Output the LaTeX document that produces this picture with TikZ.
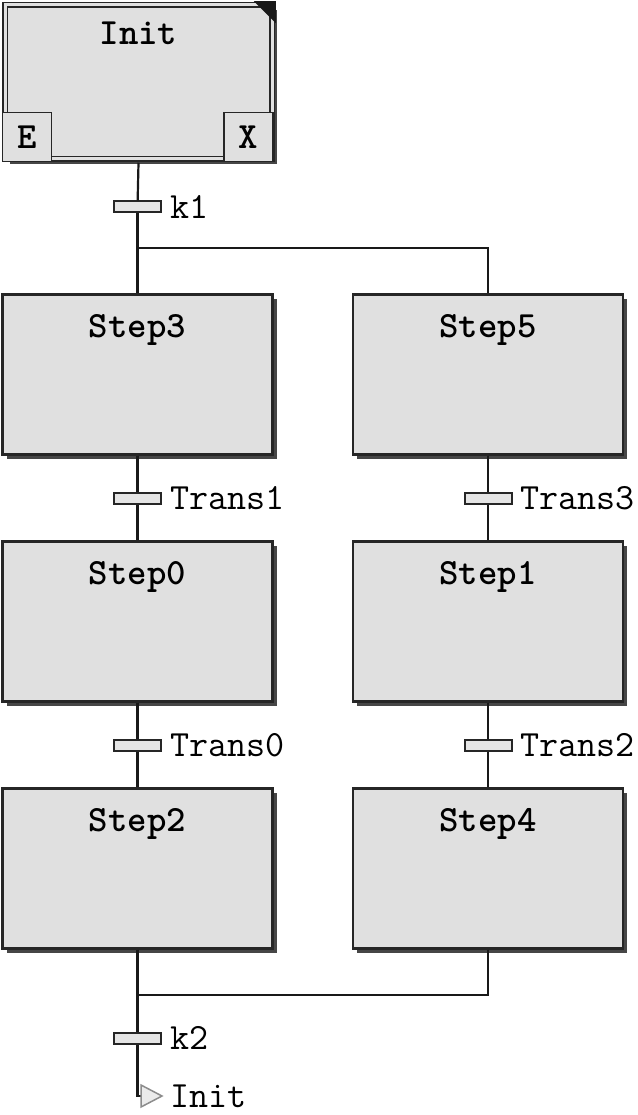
\documentclass[tikz,border=0pt]{standalone}
\usepackage{tikz}
\usetikzlibrary{shadows}

\begin{document}
\begin{tikzpicture}[x=1pt, y=-1pt,
  every node/.style={font=\fontsize{37}{44}\selectfont\ttfamily},
  stepbox/.style={draw=black!85, line width=2.2pt, fill=black!12, minimum width=270pt, minimum height=160pt, inner sep=0pt,
    drop shadow={shadow xshift=4pt, shadow yshift=-4pt, fill=black!85, opacity=.85}},
  initbox/.style={draw=black!85, line width=1.5pt, double=black!12, double distance=3pt, fill=black!12,
    minimum width=267pt, minimum height=154pt, inner sep=0pt,
    drop shadow={shadow xshift=5pt, shadow yshift=-5pt, fill=black!85, opacity=.85}},
  corbox/.style={draw=black!85, line width=1.5pt, fill=black!12, minimum size=49pt, inner sep=0pt,
    font=\fontsize{37}{44}\selectfont\ttfamily\bfseries},
  steptitle/.style={font=\fontsize{37}{44}\selectfont\ttfamily\bfseries, anchor=base, inner sep=0pt},
  trbar/.style={draw=black!85, line width=2pt, fill=black!10, minimum width=47pt, minimum height=11pt, inner sep=0pt},
  trlabel/.style={anchor=west, inner sep=0pt, xshift=8pt},
  link/.style={line width=2.2pt, draw=black!90}]
\useasboundingbox (0,0) rectangle (637,1115);

% initial step
\node[initbox] (init) at (138.5,82) {};
\node[corbox] (entry) at (27,137) {E};
\node[corbox] (exit) at (248.5,137) {X};
\fill[black!90] ([xshift=-19pt,yshift=3pt]init.north east) -- ([xshift=3pt,yshift=3pt]init.north east) -- ([xshift=3pt,yshift=-19pt]init.north east) -- cycle;
\node[steptitle] (initname) at ([yshift=-40pt]init.north) {Init};

% steps
\node[stepbox] (s3) at (137.5,374.5) {};
\node[stepbox] (s5) at (488,374.5) {};
\node[stepbox] (s0) at (137.5,621.5) {};
\node[stepbox] (s1) at (488,621.5) {};
\node[stepbox] (s2) at (137.5,868.5) {};
\node[stepbox] (s4) at (488,868.5) {};
\node[steptitle] (s3name) at ([yshift=-44pt]s3.north) {Step3};
\node[steptitle] (s5name) at ([yshift=-44pt]s5.north) {Step5};
\node[steptitle] (s0name) at ([yshift=-44pt]s0.north) {Step0};
\node[steptitle] (s1name) at ([yshift=-44pt]s1.north) {Step1};
\node[steptitle] (s2name) at ([yshift=-44pt]s2.north) {Step2};
\node[steptitle] (s4name) at ([yshift=-44pt]s4.north) {Step4};

% transitions
\node[trbar] (k1) at (137.5,207) {};
\node[trbar] (t1) at (137.5,498) {};
\node[trbar] (t3) at (488,498) {};
\node[trbar] (t0) at (137.5,745) {};
\node[trbar] (t2) at (488,745) {};
\node[trbar] (k2) at (137.5,1038) {};
\node[trlabel] (k1lbl) at (k1.east) {k1};
\node[trlabel] (t1lbl) at (t1.east) {Trans1};
\node[trlabel] (t3lbl) at (t3.east) {Trans3};
\node[trlabel] (t0lbl) at (t0.east) {Trans0};
\node[trlabel] (t2lbl) at (t2.east) {Trans2};
\node[trlabel] (k2lbl) at (k2.east) {k2};

\coordinate (initout) at ([yshift=-3pt]init.south);
\coordinate (fork) at (137.5,248);
\coordinate (join) at (137.5,995);
\coordinate (jump) at (141,1096);

% links
\draw[link] (initout) -- (k1);
\draw[link] (k1) -- (s3);
\draw[link] (fork) -| (s5);
\draw[link] (s3) -- (t1);
\draw[link] (t1) -- (s0);
\draw[link] (s0) -- (t0);
\draw[link] (t0) -- (s2);
\draw[link] (s5) -- (t3);
\draw[link] (t3) -- (s1);
\draw[link] (s1) -- (t2);
\draw[link] (t2) -- (s4);
\draw[link] (s2) -- (k2);
\draw[link] (s4) |- (join);
\draw[link] (k2) |- (jump);

% jump back
\draw[draw=black!45, fill=black!8, line width=1.5pt] (jump) -- ++(0,-11) -- ++(21,11) -- ++(-21,11) -- cycle;
\node[trlabel] (jumplbl) at (162,1096) {Init};
\end{tikzpicture}
\end{document}
